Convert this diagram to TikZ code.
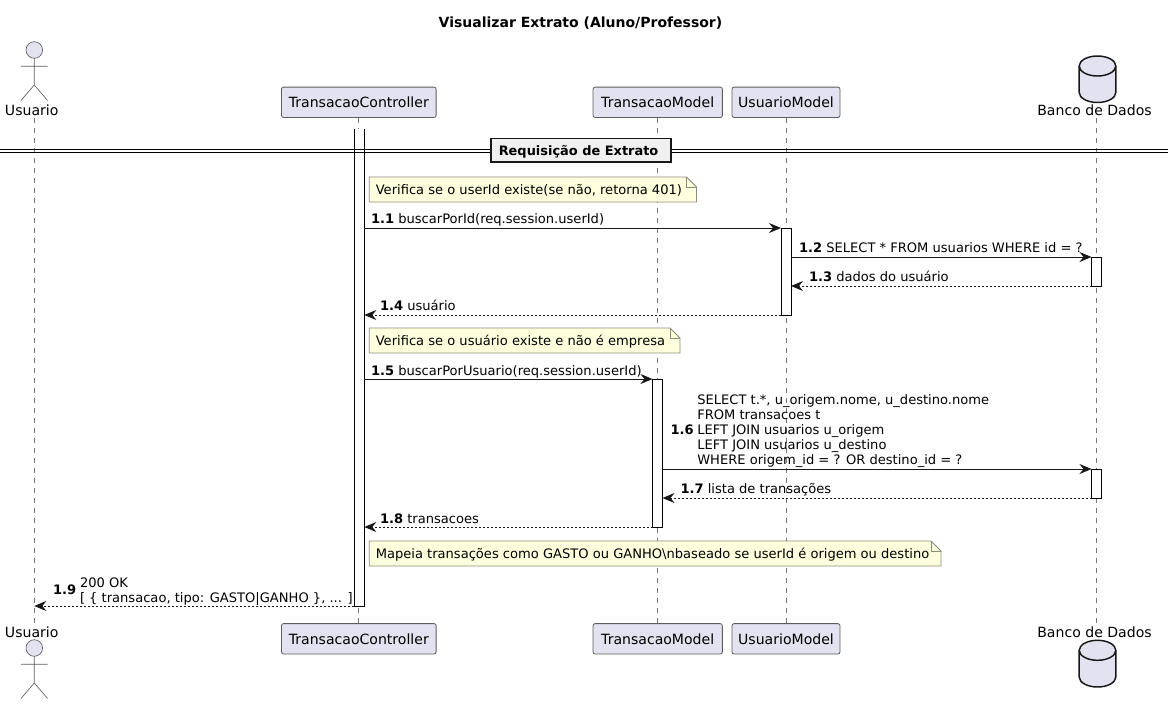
\documentclass[tikz,border=0pt]{standalone}
\usepackage{fontspec}
\setmainfont{DejaVu Sans}
\usetikzlibrary{arrows.meta}
\definecolor{partfill}{HTML}{E2E2F0}
\definecolor{partline}{HTML}{181818}
\definecolor{notefill}{HTML}{FEFFDD}
\definecolor{lifeline}{HTML}{777777}
\tikzset{
  txt/.style={inner sep=0pt,outer sep=0pt,font=\fontsize{9.8}{11.25}\selectfont},
  headtxt/.style={inner sep=0pt,outer sep=0pt,font=\fontsize{10.55}{12}\selectfont},
  lbl/.style={txt,anchor=base west,align=left},
  partbox/.style={draw=partline!70,line width=0.6pt,fill=partfill,rounded corners=1.6pt,headtxt,minimum height=22.8pt},
  life/.style={draw=lifeline,line width=0.5pt,dash pattern=on 3.75pt off 3.75pt},
  actorline/.style={draw=partline!70,line width=0.5pt,fill=partfill},
  dbline/.style={draw=partline,line width=1.1pt,fill=partfill},
  act/.style={draw=black,line width=0.7pt,fill=white,inner sep=0pt,outer sep=0pt,minimum width=7.5pt},
  actopen/.style={fill=white,inner sep=0pt,outer sep=0pt,minimum width=7.5pt},
  actedge/.style={draw=black,line width=0.7pt},
  msg/.style={draw=partline,line width=0.7pt,-{Stealth[length=9pt,width=7.5pt,inset=3pt]}},
  ret/.style={msg,dash pattern=on 1.5pt off 1.5pt},
  sepline/.style={draw=black,line width=0.75pt},
  sepbox/.style={draw=partline,line width=1.2pt,fill=black!6,inner sep=0pt,outer sep=0pt,minimum width=135pt,minimum height=17.6pt},
  notepath/.style={draw=partline!50!notefill,line width=0.55pt,fill=notefill},
}
\newcommand{\notebox}[5]{% name x1 x2 ytop text
  \path[notepath] (#2,#4) -- (#3-10,#4) -- (#3,#4+10) -- (#3,#4+25) -- (#2,#4+25) -- cycle;
  \path[notepath,fill=none] (#3-10,#4) -- (#3-10,#4+10) -- (#3,#4+10);
  \node[lbl] (#1) at (#2+6.5,#4+17) {#5};
}
\newcommand{\actorfig}[2]{% x, head centre y
  \draw[actorline] (#1,#2) circle (8.3);
  \draw[actorline,fill=none] (#1,#2+8.3) -- (#1,#2+35) (#1-13.3,#2+16.3) -- (#1+13.3,#2+16.3)
    (#1-13.3,#2+50.5) -- (#1,#2+35) -- (#1+13.3,#2+50.5);
}
\newcommand{\dbfig}[3]{% cx, top y, bottom y
  \draw[dbline] (#1-18.3,#2+10) arc[start angle=180,end angle=360,x radius=18.3,y radius=10]
     -- (#1+18.3,#3-10) arc[start angle=0,end angle=180,x radius=18.3,y radius=10] -- cycle;
  \draw[dbline,fill=none] (#1-18.3,#2+10) arc[start angle=180,end angle=0,x radius=18.3,y radius=10];
}
\begin{document}
\begin{tikzpicture}[x=0.75pt,y=-0.75pt]
\useasboundingbox (0,0) rectangle (1168,704);
% title
\node[inner sep=0pt,font=\fontsize{10.5}{12}\selectfont\bfseries] (title) at (580.5,23) {Visualizar Extrato (Aluno/Professor)};
% participants
\node[headtxt,anchor=base] (uTop) at (31.7,115) {Usuario};
\node[headtxt,anchor=base] (uBot) at (31.7,637) {Usuario};
\node[partbox,minimum width=116pt] (tcTop) at (358.8,102.3) {TransacaoController};
\node[partbox,minimum width=116pt] (tcBot) at (358.8,638.8) {TransacaoController};
\node[partbox,minimum width=97pt] (tmTop) at (657.7,102.3) {TransacaoModel};
\node[partbox,minimum width=97pt] (tmBot) at (657.7,638.8) {TransacaoModel};
\node[partbox,minimum width=81pt] (umTop) at (786,102.3) {UsuarioModel};
\node[partbox,minimum width=81pt] (umBot) at (786,638.8) {UsuarioModel};
\node[headtxt,anchor=base] (dbTop) at (1094.5,115) {Banco de Dados};
\node[headtxt,anchor=base] (dbBot) at (1094.5,637) {Banco de Dados};
% lifeline ends beside the free-standing labels
\coordinate (uA) at (34.3,118);
\coordinate (uB) at (34.3,623);
\coordinate (dbA) at (1096.3,118);
\coordinate (dbB) at (1096.3,623);
% lifelines
\draw[life] (uA) -- (uB);
\draw[life] (tcTop.south) -- (tcBot.north);
\draw[life] (tmTop.south) -- (tmBot.north);
\draw[life] (umTop.south) -- (umBot.north);
\draw[life] (dbA) -- (dbB);
% figures
\actorfig{34.3}{50}
\actorfig{34.3}{648}
\dbfig{1097.5}{56}{102.5}
\dbfig{1097.5}{640.3}{687}
% activations
\node[actopen,anchor=north,minimum height=357.75pt] (aTC) at (359.3,129) {};
\draw[actedge] (aTC.north west) -- (aTC.south west) -- (aTC.south east) -- (aTC.north east);
\node[act,anchor=north,minimum height=65.25pt] (aUM) at (786,228) {};
\node[act,anchor=north,minimum height=21.75pt] (aDB1) at (1096.5,257) {};
\node[act,anchor=north,minimum height=111pt] (aTM) at (657.5,379) {};
\node[act,anchor=north,minimum height=21.75pt] (aDB2) at (1096.5,469) {};
% separator
\draw[sepline] (0,149.3) -- (1168,149.3);
\draw[sepline] (0,152.3) -- (1168,152.3);
\node[sepbox] (sep) at (580.8,150.3) {};
\node[inner sep=0pt,font=\fontsize{9.7}{12}\selectfont\bfseries,anchor=base west] (septext) at (498.5,155) {Requisição de Extrato};
% notes
\notebox{n1}{369.3}{696.5}{177}{Verifica se o userId existe(se não, retorna 401)}
\notebox{n2}{369.3}{680}{328}{Verifica se o usuário existe e não é empresa}
\notebox{n3}{369.3}{941}{541}{Mapeia transações como GASTO ou GANHO\textbackslash nbaseado se userId é origem ou destino}
% message anchors
\coordinate (m1a) at (aTC.east |- aUM.north);
\coordinate (m1b) at (aUM.north west);
\coordinate (m2a) at (aUM.east |- aDB1.north);
\coordinate (m2b) at (aDB1.north west);
\coordinate (m3a) at (aDB1.south west);
\coordinate (m3b) at (aUM.east |- aDB1.south);
\coordinate (m4a) at (aUM.south west);
\coordinate (m4b) at (aTC.east |- aUM.south);
\coordinate (m5a) at (aTC.east |- aTM.north);
\coordinate (m5b) at (aTM.north west);
\coordinate (m6a) at (aTM.east |- aDB2.north);
\coordinate (m6b) at (aDB2.north west);
\coordinate (m7a) at (aDB2.south west);
\coordinate (m7b) at (aTM.east |- aDB2.south);
\coordinate (m8a) at (aTM.south west);
\coordinate (m8b) at (aTC.east |- aTM.south);
\coordinate (m9a) at (aTC.south west);
\coordinate (m9b) at (uA |- aTC.south);
\draw[msg] (m1a) -- (m1b);
\draw[msg] (m2a) -- (m2b);
\draw[ret] (m3a) -- (m3b);
\draw[ret] (m4a) -- (m4b);
\draw[msg] (m5a) -- (m5b);
\draw[msg] (m6a) -- (m6b);
\draw[ret] (m7a) -- (m7b);
\draw[ret] (m8a) -- (m8b);
\draw[ret] (m9a) -- (m9b);
% labels
\node[lbl] (l1) at (371,223) {\textbf{1.1} buscarPorId(req.session.userId)};
\node[lbl] (l2) at (799,252) {\textbf{1.2} SELECT * FROM usuarios WHERE id = ?};
\node[lbl] (l3) at (809,281) {\textbf{1.3} dados do usuário};
\node[lbl] (l4) at (380,310) {\textbf{1.4} usuário};
\node[lbl] (l5) at (371,375) {\textbf{1.5} buscarPorUsuario(req.session.userId)};
\node[lbl] (l6n) at (670.5,434) {\textbf{1.6}};
\node[lbl] (l6a) at (697.3,404) {SELECT t.*, u\_origem.nome, u\_destino.nome};
\node[lbl] (l6b) at (697.3,419) {FROM transacoes t};
\node[lbl] (l6c) at (697.3,434) {LEFT JOIN usuarios u\_origem};
\node[lbl] (l6d) at (697.3,449) {LEFT JOIN usuarios u\_destino};
\node[lbl] (l6e) at (697.3,464) {WHERE origem\_id = ? OR destino\_id = ?};
\node[lbl] (l7) at (680.5,493) {\textbf{1.7} lista de transações};
\node[lbl] (l8) at (380,523) {\textbf{1.8} transacoes};
\node[lbl] (l9n) at (53,594) {\textbf{1.9}};
\node[lbl] (l9a) at (80,587) {200 OK};
\node[lbl] (l9b) at (80,602) {[ \{ transacao, tipo: GASTO|GANHO \}, ... ]};
\end{tikzpicture}
\end{document}
